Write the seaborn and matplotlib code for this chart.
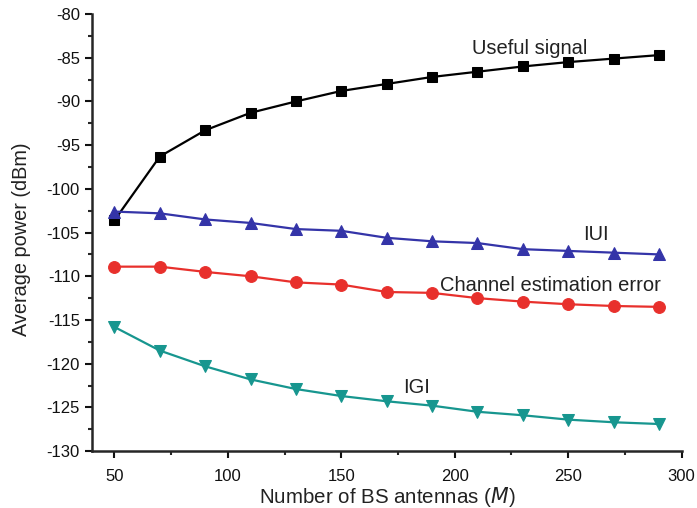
import matplotlib
matplotlib.use("Agg")
import matplotlib.pyplot as plt
from matplotlib.ticker import MultipleLocator, FuncFormatter
import seaborn as sns
import pandas as pd

# Number of base-station antennas
antennas = [50, 70, 90, 110, 130, 150, 170, 190, 210, 230, 250, 270, 290]

# Average power of each component (dBm)
useful_signal = [-103.6, -96.3, -93.3, -91.3, -90.0, -88.8, -88.0, -87.2,
                 -86.6, -86.0, -85.5, -85.1, -84.7]
iui = [-102.6, -102.8, -103.5, -103.9, -104.6, -104.8, -105.6, -106.0,
       -106.2, -106.9, -107.1, -107.3, -107.5]
channel_error = [-108.9, -108.9, -109.5, -110.0, -110.7, -110.95, -111.8,
                 -111.9, -112.5, -112.9, -113.2, -113.4, -113.5]
igi = [-115.8, -118.5, -120.3, -121.8, -122.9, -123.7, -124.3, -124.8,
       -125.5, -125.9, -126.4, -126.7, -126.9]

series_names = ["Useful signal", "IUI", "Channel estimation error", "IGI"]
series_values = [useful_signal, iui, channel_error, igi]
series_colors = ["#000000", "#3434a8", "#e8302c", "#17968f"]
series_markers = ["s", "^", "o", "v"]
series_msize = [6.5, 8, 8.5, 8]

# Label anchor points (data coordinates)
label_x = [233, 262, 242, 183]
label_y = [-83.9, -105.2, -111.0, -122.7]

sns.set_style("ticks")
plt.rcParams["font.family"] = ["Liberation Sans", "DejaVu Sans"]

fig = plt.figure(figsize=(6.97, 5.08), dpi=100)
ax = fig.add_axes([0.1316, 0.112, 0.978 - 0.1316, 0.9724 - 0.112])

for name, vals, col, mk, ms in zip(series_names, series_values, series_colors,
                                   series_markers, series_msize):
    df = pd.DataFrame({"N": antennas, "P": vals})
    sns.lineplot(data=df, x="N", y="P", ax=ax, color=col, marker=mk,
                 markersize=ms, markeredgecolor=col, linewidth=1.6,
                 legend=False)

for name, x, y in zip(series_names, label_x, label_y):
    ax.text(x, y, name, ha="center", va="center", fontsize=14.5,
            color="#222222")

ax.set_xlim(40, 300)
ax.set_ylim(-130, -80)
ax.xaxis.set_major_locator(MultipleLocator(50))
ax.xaxis.set_minor_locator(MultipleLocator(25))
ax.yaxis.set_major_locator(MultipleLocator(5))
ax.yaxis.set_minor_locator(MultipleLocator(2.5))
ax.xaxis.set_major_formatter(FuncFormatter(lambda v, p: f"{v:g}"))
ax.yaxis.set_major_formatter(FuncFormatter(lambda v, p: f"{v:g}"))

ax.tick_params(which="major", direction="out", length=5, width=1.5,
               labelsize=12, colors="#111111")
ax.tick_params(axis="x", which="major", pad=8)
ax.tick_params(which="minor", direction="out", length=3, width=1.5)
for side in ["left", "bottom"]:
    ax.spines[side].set_linewidth(1.8)
sns.despine(ax=ax)

ax.set_xlabel("Number of BS antennas ($\\it{M}$)", fontsize=14.8,
              color="#222222")
ax.set_ylabel("Average power (dBm)", fontsize=14.3, color="#222222")
ax.xaxis.set_label_coords(0.5005, -0.105)
ax.yaxis.set_label_coords(-0.1195, 0.485)
ax.xaxis.label.set_va("center")
ax.yaxis.label.set_va("center")

fig.savefig("out.png", dpi=100)
